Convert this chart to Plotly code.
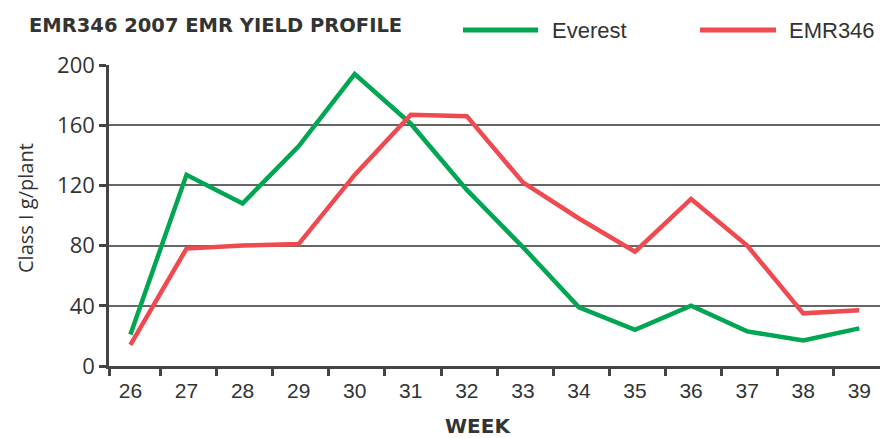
import plotly.graph_objects as go

weeks = [26, 27, 28, 29, 30, 31, 32, 33, 34, 35, 36, 37, 38, 39]
everest = [21, 127, 108, 146, 194, 161, 117, 79, 39, 24, 40, 23, 17, 25]
emr346 = [14, 78, 80, 81, 127, 167, 166, 122, 98, 76, 111, 80, 35, 37]
y_ticks = [0, 40, 80, 120, 160, 200]

GREEN = "#00a651"
RED = "#ef4a50"
TXT = "#333333"

fig = go.Figure()
fig.add_trace(go.Scatter(x=weeks, y=everest, mode="lines", name="Everest",
                         line=dict(color=GREEN, width=4.5), showlegend=False))
fig.add_trace(go.Scatter(x=weeks, y=emr346, mode="lines", name="EMR346",
                         line=dict(color=RED, width=4.5), showlegend=False))

xmin, xmax = 25.618, 39.369
minor_vals = [xmin] + [w + 0.54 for w in weeks[:-1]]

fig.update_layout(
    width=880, height=438,
    margin=dict(l=109, r=0, t=65, b=72),
    plot_bgcolor="white", paper_bgcolor="white",
    font=dict(family="Liberation Sans, Arial, sans-serif", color=TXT, size=21),
    xaxis=dict(
        range=[xmin, xmax], tickvals=weeks, ticktext=[str(w) for w in weeks],
        ticks="", showgrid=False, zeroline=False,
        showline=True, linecolor="#444444", linewidth=3,
        ticklabelstandoff=4,
        tickfont=dict(family="Liberation Sans, Arial, sans-serif", size=21, color=TXT),
        minor=dict(tickvals=minor_vals, ticks="outside", ticklen=7, tickwidth=2.5,
                   tickcolor="#444444", showgrid=False),
    ),
    yaxis=dict(
        range=[0, 200], tickvals=y_ticks, ticks="outside", ticklen=7, tickwidth=2.5,
        tickcolor="#444444", showline=True, linecolor="#444444", linewidth=2.5,
        showgrid=True, gridcolor="#666666", gridwidth=1.5, zeroline=False,
        tickfont=dict(family="Open Sans, sans-serif", size=22, color=TXT),
    ),
)

annotations = [
    dict(text="<b>EMR346 2007 EMR YIELD PROFILE</b>", x=27, y=25, showarrow=False,
         xanchor="left", yanchor="middle",
         font=dict(family="DejaVu Sans, sans-serif", size=19.5, color=TXT)),
    dict(text="Everest", x=550, y=30, showarrow=False, xanchor="left", yanchor="middle",
         font=dict(family="Liberation Sans, sans-serif", size=22, color=TXT)),
    dict(text="EMR346", x=787, y=30, showarrow=False, xanchor="left", yanchor="middle",
         font=dict(family="Liberation Sans, sans-serif", size=22, color=TXT)),
    dict(text="Class I g/plant", x=25, y=208, showarrow=False, textangle=-90,
         xanchor="center", yanchor="middle",
         font=dict(family="Open Sans, sans-serif", size=20, color=TXT)),
    dict(text="<b>WEEK</b>", x=478, y=425.5, showarrow=False, xanchor="center", yanchor="middle",
         borderpad=0,
         font=dict(family="DejaVu Sans, sans-serif", size=20, color=TXT)),
]
# convert pixel positions to paper coords
W, H = 880, 438
L, R, T, B = 109, 0, 65, 72
pw, ph = W - L - R, H - T - B
for a in annotations:
    a["x"] = (a["x"] - L) / pw
    a["y"] = 1 - (a["y"] - T) / ph
    a["xref"] = "paper"; a["yref"] = "paper"
fig.update_layout(annotations=annotations)

shapes = []
for x0, x1, c in [(463, 538, GREEN), (700, 776, RED)]:
    shapes.append(dict(type="line", xref="paper", yref="paper",
                       x0=(x0 - L) / pw, x1=(x1 - L) / pw,
                       y0=1 - (30 - T) / ph, y1=1 - (30 - T) / ph,
                       line=dict(color=c, width=5)))
fig.update_layout(shapes=shapes)

fig.write_html("out.html", config={"displayModeBar": False},
               post_script="document.body.style.margin='0';")
